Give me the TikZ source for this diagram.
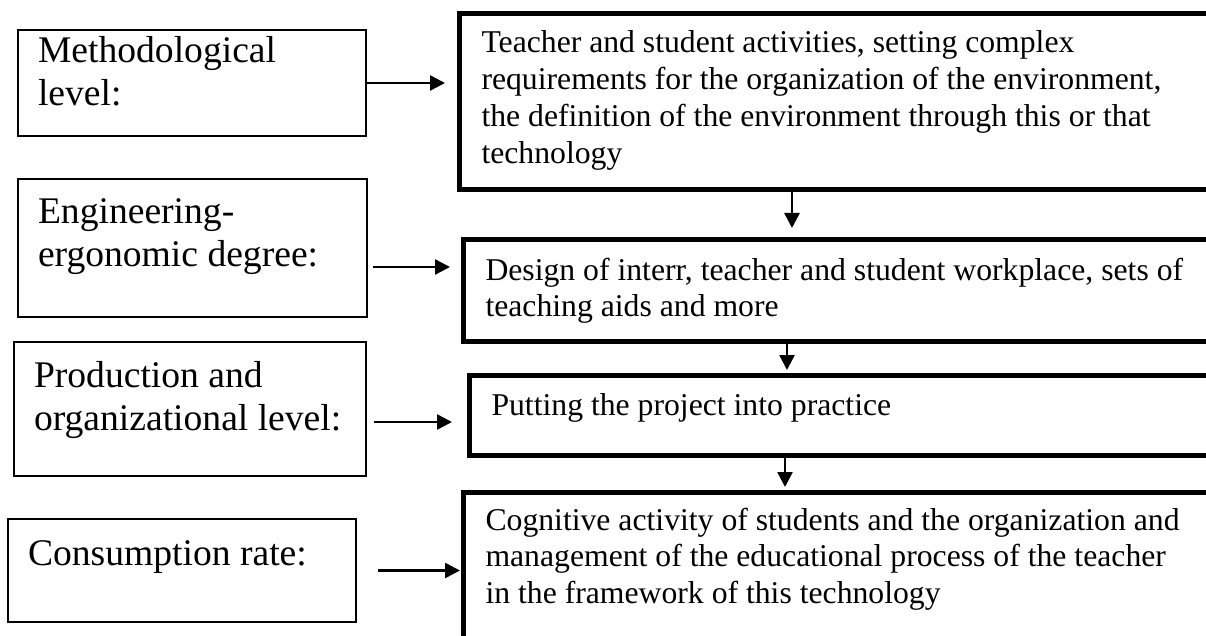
\documentclass[tikz,border=0pt]{standalone}
\usepackage{fontspec}
\setmainfont{Liberation Serif}
\usetikzlibrary{arrows.meta}
\newcommand{\levelfont}{\fontsize{37.6pt}{43pt}\selectfont}
\newcommand{\stagefont}{\fontsize{31.7pt}{36.7pt}\selectfont}
\tikzset{
  levelbox/.style={draw, line width=2pt, anchor=north west, outer sep=0pt,
    inner ysep=0pt, inner xsep=20pt, align=flush left, font=\levelfont},
  stagebox/.style={draw, line width=5pt, anchor=north west, outer sep=0pt,
    inner ysep=0pt, inner xsep=22pt, align=flush left, font=\stagefont, text width=720pt},
  link/.style={-{Triangle[length=15pt,width=15pt]}, line width=2.5pt}
}

\begin{document}
\begin{tikzpicture}[x=1pt, y=-1pt]
    \useasboundingbox (0,0) rectangle (1206,636);
    \clip (0,0) rectangle (1206,636);

    \node[levelbox, text width=308pt, text height=33pt, text depth=73pt] (method) at (18,30)
        {Methodological\\level:};
    \node[levelbox, text width=309pt, text height=45pt, text depth=93pt] (engin) at (18,179)
        {Engineering-\\ergonomic degree:};
    \node[levelbox, text width=312pt, text height=45pt, text depth=89pt] (prod) at (14,342)
        {Production and\\organizational level:};
    \node[levelbox, text width=308pt, text height=46pt, text depth=57pt] (consum) at (8,519)
        {Consumption rate:};

    \node[stagebox, text height=39.5pt, text depth=136.5pt] (activ) at (459.5,13.5)
        {Teacher and student activities, setting complex\\
         requirements for the organization of the environment,\\
         the definition of the environment through this or that\\
         technology};
    \node[stagebox, text height=40.5pt, text depth=61.5pt] (design) at (463.5,239.5)
        {Design of interr, teacher and student workplace, sets of\\
         teaching aids and more};
    \node[stagebox, text height=40pt, text depth=40.5pt] (practice) at (469.5,375)
        {Putting the project into practice};
    \node[stagebox, text height=38pt, text depth=160pt] (cognit) at (463.5,492)
        {Cognitive activity of students and the organization and\\
         management of the educational process of the teacher\\
         in the framework of this technology};

    \draw[link, shorten <=1pt, shorten >=14.5pt] (method.east) -- (method.east -| activ.west);
    \draw[link, shorten <=6pt, shorten >=13.5pt] ([yshift=-19pt]engin.east) -- ([yshift=-19pt]engin.east -| design.west);
    \draw[link, shorten <=8pt, shorten >=17.5pt] ([yshift=-13pt]prod.east) -- ([yshift=-13pt]prod.east -| practice.west);
    \draw[link, shorten <=22pt, shorten >=3.5pt] (consum.east) -- (consum.east -| cognit.west);

    \coordinate (spine) at (792,0);
    \draw[link, shorten <=2.5pt, shorten >=11.5pt] (spine |- activ.south) -- (spine |- design.north);
    \draw[link, shorten <=2.5pt, shorten >=5pt] ([xshift=-5pt]spine |- design.south) -- ([xshift=-5pt]spine |- practice.north);
    \draw[link, shorten <=2.5pt, shorten >=5pt] ([xshift=-7pt]spine |- practice.south) -- ([xshift=-7pt]spine |- cognit.north);
\end{tikzpicture}
\end{document}
